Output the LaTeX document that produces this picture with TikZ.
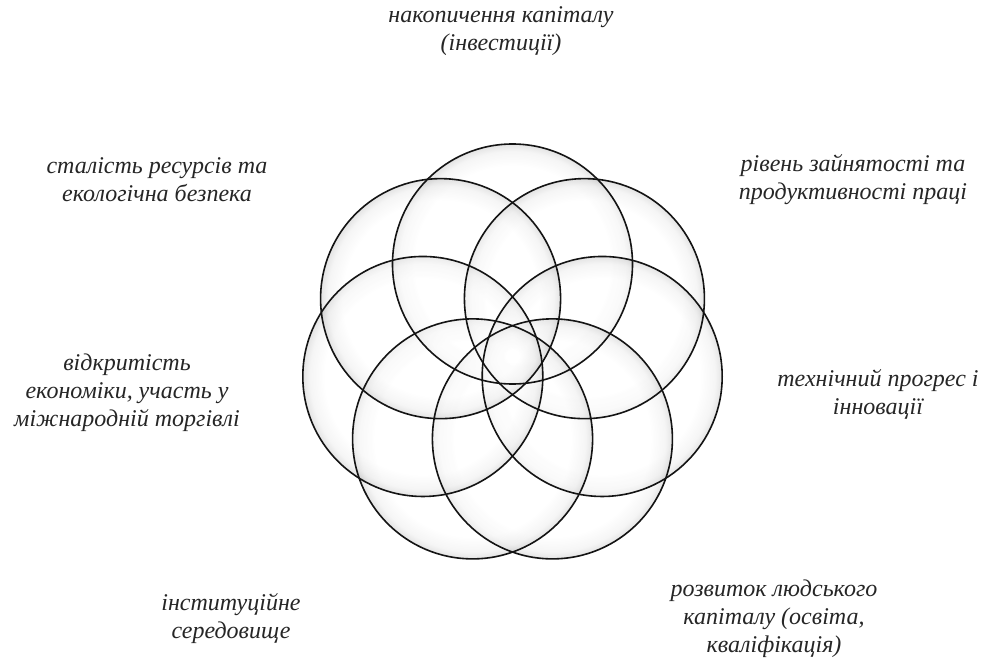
\documentclass[tikz,border=0pt]{standalone}
\usepackage{fontspec}
\setmainfont{Liberation Serif}
\pgfdeclareradialshading{edgeglow}{\pgfpoint{0bp}{0bp}}{color(0bp)=(white); color(20.5bp)=(white); color(23.5bp)=(black!12); color(25bp)=(black!35); color(50bp)=(black!35)}
\tikzset{
  petal/.style={circle, inner sep=0pt, minimum size=240pt, shading=edgeglow, fill opacity=0.3},
  rim/.style={circle, inner sep=0pt, minimum size=240pt, draw=black!92, line width=1.6pt},
  lbl/.style={align=center, text=black!85, font=\itshape\fontsize{24}{28}\selectfont, inner sep=0pt}
}
\begin{document}
\begin{tikzpicture}[x=1pt,y=-1pt]
\useasboundingbox (0,0) rectangle (982,658);
\fill[white] (0,0) rectangle (982,658);
\begin{scope}[shift={(512.5,356)}]
  \foreach \i in {0,...,6}{
    \coordinate (c\i) at ({-90+\i*360/7}:92);
  }
  \foreach \i in {0,...,6}{
    \node[petal, shade] (p\i) at (c\i) {};
  }
  \foreach \i in {0,...,6}{
    \node[rim] (r\i) at (c\i) {};
  }
\end{scope}
\node[lbl] (t0) at (501,31) {накопичення капіталу\\(інвестиції)};
\node[lbl] (t1) at (853,180) {рівень зайнятості та\\продуктивності праці};
\node[lbl] (t2) at (878,394) {технічний прогрес і\\інновації};
\node[lbl] (t3) at (774,619) {розвиток людського\\капіталу (освіта,\\кваліфікація)};
\node[lbl] (t4) at (231,619) {інституційне\\середовище};
\node[lbl] (t5) at (127,393) {відкритість\\економіки, участь у\\міжнародній торгівлі};
\node[lbl] (t6) at (157,180) {сталість ресурсів та\\екологічна безпека};
\end{tikzpicture}
\end{document}
